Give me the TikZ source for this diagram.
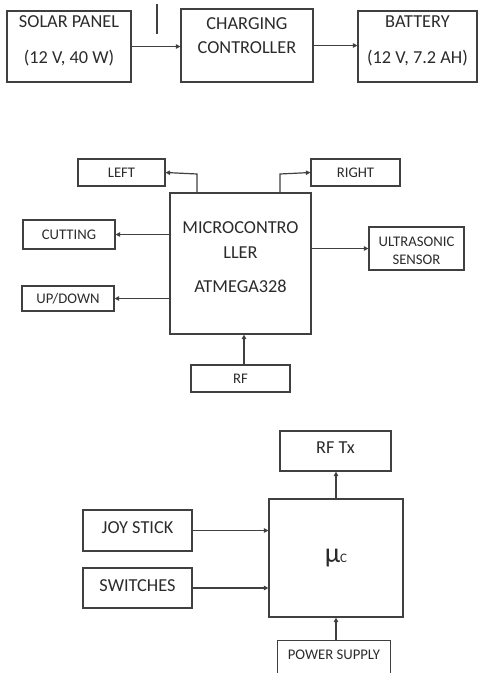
\documentclass[tikz,border=0pt]{standalone}
\usepackage{fontspec}
\setmainfont{Carlito}
\usepackage{tikz}
\usetikzlibrary{arrows.meta}
\definecolor{bdline}{HTML}{404040}
\definecolor{bdtext}{HTML}{2B2B2B}
\newcommand{\bigtxt}{\fontsize{18.3}{22}\selectfont}
\newcommand{\smtxt}{\fontsize{14.7}{18}\selectfont}

\begin{document}
\begin{tikzpicture}[x=1pt,y=-1pt,
  b/.style={draw=bdline,line width=1.2pt,inner sep=0pt,align=center,text=bdtext,
    font=\bigtxt,text height=11.8pt,text depth=0pt},
  bs/.style={b,font=\smtxt,text height=9.5pt},
  arr/.style={-{Triangle[length=4.5pt,width=4.5pt]},line width=1.2pt,draw=bdline}]
  \useasboundingbox (0,0) rectangle (478,673);
  \clip (0,0) rectangle (478,673);
  % top: panel -> controller -> battery
  \node[b,minimum width=124,minimum height=71,text height=33pt] (solar) at (69,46.5)
    {SOLAR PANEL\\[14pt](12 V, 40 W)};
  \node[b,minimum width=132,minimum height=73,text height=15pt] (charger) at (247,45.5)
    {CHARGING\\[2pt]CONTROLLER};
  \node[b,minimum width=119,minimum height=71,text height=33pt] (battery) at (417.5,46.5)
    {BATTERY\\[14pt](12 V, 7.2 AH)};
  \coordinate (tick) at (157,4);
  \draw[line width=1.2pt,draw=bdline] (tick) -- ++(0,30);
  \draw[arr] (solar.east) -- (solar.east -| charger.west);
  \draw[arr] (charger.east) -- (charger.east -| battery.west);
  % middle: the robot controller and its outputs
  \node[b,minimum width=141,minimum height=141,text height=57pt] (mcu) at (240.5,263.5)
    {MICROCONTRO\\[3pt]LLER\\[12pt]ATMEGA328};
  \node[bs,minimum width=87,minimum height=27] (left) at (121.5,172.5) {LEFT};
  \node[bs,minimum width=89,minimum height=27] (right) at (355.5,172.5) {RIGHT};
  \node[bs,minimum width=92,minimum height=29] (cutting) at (69,234.5) {CUTTING};
  \node[bs,minimum width=92,minimum height=25] (updown) at (68,298.5) {UP/DOWN};
  \node[bs,minimum width=95,minimum height=43,text height=31pt] (sonar) at (416.5,248.5)
    {ULTRASONIC\\SENSOR};
  \node[bs,minimum width=99,minimum height=27] (rf) at (240.5,378.5) {RF};
  \coordinate (lbend) at (197,174);
  \coordinate (rbend) at (280,174);
  \draw[arr] (mcu.north -| lbend) -- (lbend) -- (left.east);
  \draw[arr] (mcu.north -| rbend) -- (rbend) -- (right.west);
  \draw[arr] (mcu.west |- cutting.east) -- (cutting.east);
  \draw[arr] (mcu.west |- updown.east) -- (updown.east);
  \draw[arr] (mcu.east |- sonar.west) -- (sonar.west);
  \draw[arr] ([xshift=3.5pt]rf.north) -- ([xshift=3.5pt]rf.north |- mcu.south);
  % bottom: remote with joystick and switches
  \node[b,minimum width=111,minimum height=40,text depth=7.8pt] (rftx) at (335.5,451) {RF Tx};
  \node[b,minimum width=134,minimum height=118,text height=8pt] (uc) at (336,558)
    {{\fontsize{28}{28}\selectfont μ}{\fontsize{13}{13}\selectfont C}};
  \node[b,minimum width=109,minimum height=41,text depth=6.8pt] (joy) at (137.5,530.5) {JOY STICK};
  \node[b,minimum width=109,minimum height=40,text depth=4.4pt] (switches) at (137.5,588) {SWITCHES};
  \node[bs,draw=none,minimum width=112,minimum height=27] (psu) at (334,654.5) {POWER SUPPLY};
  \draw[line width=1.2pt,draw=bdline] ([yshift=-30pt]psu.south west) |- (psu.north) -| ([yshift=-30pt]psu.south east);
  \draw[arr] (uc.north) -- (uc.north |- rftx.south);
  \draw[arr] (joy.east) -- (joy.east -| uc.west);
  \draw[arr] (switches.east) -- (switches.east -| uc.west);
  \draw[arr] (uc.south |- psu.north) -- (uc.south);
\end{tikzpicture}
\end{document}
